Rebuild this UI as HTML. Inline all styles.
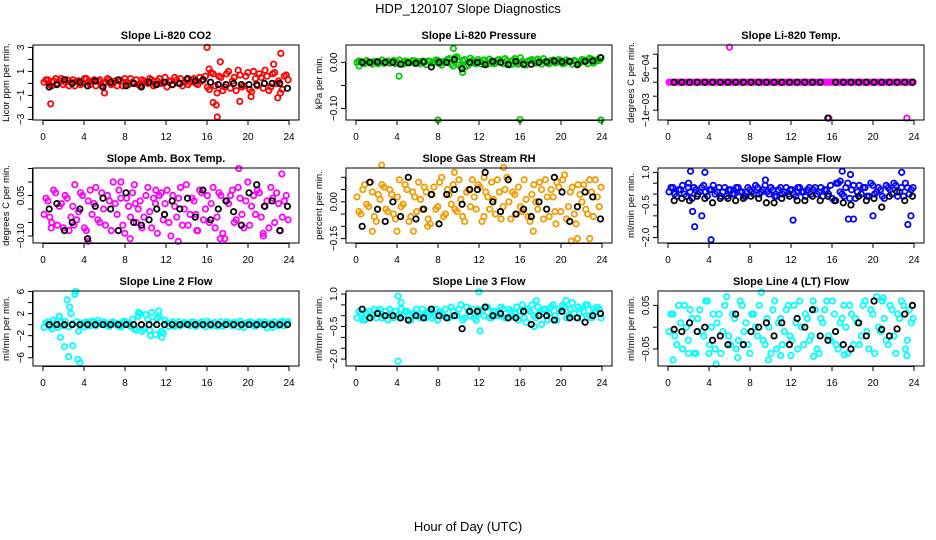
<!DOCTYPE html>
<html><head><meta charset="utf-8"><title>HDP_120107 Slope Diagnostics</title>
<style>
html,body{margin:0;padding:0;background:#fff;}
svg{display:block;font-family:"Liberation Sans",sans-serif;}
</style></head>
<body>
<svg id="chart" width="936" height="540" viewBox="0 0 936 540">
<rect width="936" height="540" fill="#fff"/>
<text x="468" y="13" text-anchor="middle" font-size="13">HDP_120107  Slope Diagnostics</text>
<text x="468" y="531" text-anchor="middle" font-size="13">Hour of Day (UTC)</text>
</svg>
<script>
const xTicks = [0,4,8,12,16,20,24];
const hoursColored = [0.1,0.48,0.85,1.23,1.6,1.98,2.35,2.73,3.1,3.48,3.85,4.23,4.6,4.98,5.35,5.73,6.1,6.48,6.85,7.23,7.6,7.98,8.35,8.73,9.1,9.48,9.85,10.23,10.6,10.98,11.35,11.73,12.1,12.48,12.85,13.23,13.6,13.98,14.35,14.73,15.1,15.48,15.85,16.23,16.6,16.98,17.35,17.73,18.1,18.48,18.85,19.23,19.6,19.98,20.35,20.73,21.1,21.48,21.85,22.23,22.6,22.98,23.35,23.73];
const hoursColoredB = [0.29,0.66,1.04,1.41,1.79,2.16,2.54,2.91,3.29,3.66,4.04,4.41,4.79,5.16,5.54,5.91,6.29,6.66,7.04,7.41,7.79,8.16,8.54,8.91,9.29,9.66,10.04,10.41,10.79,11.16,11.54,11.91,12.29,12.66,13.04,13.41,13.79,14.16,14.54,14.91,15.29,15.66,16.04,16.41,16.79,17.16,17.54,17.91,18.29,18.66,19.04,19.41,19.79,20.16,20.54,20.91,21.29,21.66,22.04,22.41,22.79,23.16,23.54,23.91];
const hoursBlack = [0.6,1.35,2.1,2.85,3.6,4.35,5.1,5.85,6.6,7.35,8.1,8.85,9.6,10.35,11.1,11.85,12.6,13.35,14.1,14.85,15.6,16.35,17.1,17.85,18.6,19.35,20.1,20.85,21.6,22.35,23.1,23.85];

const co2Vals = [0.1,0.3,-0.2,0.4,0.2,-0.1,0.3,0.1,-0.2,0.2,0.0,0.4,-0.1,0.3,0.2,-0.2,0.1,0.3,0.0,-0.2,0.2,0.4,-0.1,0.1,0.3,-0.2,0.2,0.0,0.3,-0.1,0.4,0.1,-0.3,0.2,0.5,0.0,-0.2,0.3,0.1,0.4,-0.1,0.2,0.6,-0.5,0.8,-0.8,0.5,-0.3,1.0,0.2,-0.6,0.7,-0.2,0.9,-0.7,0.4,0.8,-0.4,0.6,-0.3,0.9,0.2,-0.5,0.7];
const co2ValsB = [0.3,-0.1,0.2,0.0,0.4,0.1,-0.2,0.3,0.2,-0.1,0.4,0.1,0.2,-0.2,0.3,0.0,0.4,-0.1,0.2,0.3,-0.2,0.1,0.4,0.0,-0.1,0.3,0.1,0.4,-0.2,0.2,0.0,0.5,0.2,-0.1,0.3,0.4,0.1,-0.1,0.3,0.0,0.5,0.3,-0.3,0.9,-0.2,0.6,-0.6,0.8,-0.4,0.5,1.1,-0.3,0.6,-0.5,1.0,-0.2,0.5,1.1,-0.6,0.8,0.0,-0.8,0.6,0.3];
const co2ExtraHours = [0.75,6.0,16.0,16.2,16.6,17.0,17.3,19.2,20.3,22.5,23.2,22.9,16.9];
const co2ExtraVals = [-1.7,-0.8,3.0,1.2,-1.6,-2.8,1.8,-1.5,-1.1,1.6,2.5,-1.2,-1.8];
const co2Black = [-0.3,-0.1,0.3,0.0,0.1,-0.2,0.2,-0.3,0.1,0.3,-0.2,0.0,-0.3,0.1,-0.1,0.1,-0.1,0.0,0.4,0.2,0.3,0.1,-0.1,-0.1,0.0,-0.1,-0.1,-0.1,0.0,0.0,0.0,-0.4];

const presVals = [0.000,0.002,-0.003,0.001,-0.004,0.002,0.000,-0.002,0.003,0.001,-0.003,0.005,-0.004,0.002,0.000,-0.002,0.001,0.003,-0.005,0.002,-0.001,0.004,-0.006,0.001,0.008,-0.008,0.012,-0.010,0.006,-0.005,0.004,-0.003,0.002,0.005,-0.004,0.003,-0.002,0.006,-0.003,0.004,-0.005,0.008,-0.004,0.002,-0.006,0.004,0.001,0.007,-0.004,0.002,-0.003,0.005,0.000,0.004,-0.002,0.003,-0.004,0.002,-0.001,0.005,-0.003,0.007,0.002,0.004];
const presValsB = [0.003,-0.002,0.004,-0.001,0.002,-0.003,0.005,0.001,-0.002,0.004,0.000,-0.003,0.003,-0.001,0.004,0.002,-0.003,0.000,0.003,-0.002,0.005,-0.003,0.002,0.006,-0.004,0.010,-0.006,0.004,-0.008,0.009,-0.002,0.006,-0.004,0.001,0.007,-0.003,0.005,0.000,0.008,-0.002,0.004,-0.003,0.010,-0.005,0.003,0.006,-0.002,0.004,0.008,-0.002,0.004,-0.001,0.006,-0.003,0.005,0.001,0.004,-0.003,0.006,0.002,0.009,-0.002,0.006,0.010];
const presExtraHours = [4.2,8.0,9.5,10.4,16.0,23.9,0.3];
const presExtraVals = [-0.030,-0.125,0.030,-0.022,-0.124,-0.125,-0.008];
const presBlack = [0.000,0.000,0.001,0.000,0.000,-0.004,-0.001,-0.002,0.001,-0.010,0.000,0.000,0.006,-0.014,0.000,0.000,-0.005,0.002,0.000,-0.005,0.002,-0.004,-0.004,0.000,0.001,0.003,0.001,0.002,-0.005,0.002,0.003,0.010];

const tempVals = [0,0,0,0,0,0,0,0,0,0,0,0,0,0,0,0,0,0,0,0,0,0,0,0,0,0,0,0,0,0,0,0,0,0,0,0,0,0,0,0,0,0,0,0,0,0,0,0,0,0,0,0,0,0,0,0,0,0,0,0,0,0,0,0];
const tempValsB = [0,0,0,0,0,0,0,0,0,0,0,0,0,0,0,0,0,0,0,0,0,0,0,0,0,0,0,0,0,0,0,0,0,0,0,0,0,0,0,0,0,0,0,0,0,0,0,0,0,0,0,0,0,0,0,0,0,0,0,0,0,0,0,0];
const tempExtraHours = [6.0,15.7,23.3];
const tempExtraVals = [0.00125,-0.00128,-0.00128];
const tempBlack = [0,0,0,0,0,0,0,0,0,0,0,0,0,0,0,0,0,0,0,0,-0.00128,0,0,0,0,0,0,0,0,0,0,0];

const ambVals = [-0.02,0.03,-0.05,0.06,0.01,-0.07,0.04,-0.03,0.09,-0.01,0.05,-0.08,0.07,0.02,-0.04,0.06,-0.06,0.03,0.10,-0.02,0.04,-0.09,0.01,0.06,-0.05,0.03,-0.03,0.08,-0.07,0.02,0.05,-0.04,0.07,-0.10,0.01,0.04,-0.06,0.09,-0.02,0.03,-0.08,0.06,0.00,-0.05,0.08,-0.03,0.05,-0.11,0.02,0.07,-0.04,0.04,-0.07,0.10,0.01,-0.02,0.06,-0.09,0.03,0.08,-0.05,0.02,-0.03,0.05];
const ambValsB = [0.04,-0.03,0.07,-0.06,0.02,0.05,-0.08,0.01,-0.04,0.06,-0.07,0.03,-0.02,0.08,-0.05,0.00,0.05,-0.08,0.02,0.07,-0.06,0.04,-0.03,0.09,0.00,-0.07,0.05,-0.01,0.04,-0.09,0.06,0.02,-0.05,0.05,-0.03,0.08,0.00,-0.06,0.04,-0.02,0.07,-0.04,0.05,0.02,-0.07,0.06,-0.09,0.03,0.05,-0.05,0.08,-0.02,0.03,-0.06,0.05,0.07,-0.03,0.01,-0.07,0.04,0.06,-0.08,0.03,-0.04];
const ambExtraHours = [0.8,4.4,7.6,8.5,9.0,13.2,17.3,19.1,23.3,3.0,11.0,15.0,21.5];
const ambExtraVals = [-0.07,-0.12,0.10,-0.11,0.02,-0.12,-0.11,0.15,0.13,-0.06,0.07,-0.08,-0.10];
const ambBlack = [0.0,0.02,-0.08,-0.05,0.0,-0.11,0.01,0.04,0.0,-0.08,0.06,-0.05,-0.06,-0.04,0.0,-0.02,0.03,0.0,0.04,-0.03,0.07,-0.04,0.0,0.03,-0.01,-0.06,0.06,0.09,0.01,0.03,-0.08,0.01];

const rhVals = [0.02,-0.05,0.07,-0.02,0.04,-0.08,0.01,0.06,-0.04,0.03,-0.07,0.09,-0.01,0.05,-0.06,0.02,0.08,-0.03,0.04,-0.09,0.06,-0.02,0.10,-0.05,0.03,0.07,-0.04,0.01,-0.08,0.05,0.09,-0.03,0.06,-0.06,0.02,0.08,-0.05,0.04,-0.02,0.10,-0.07,0.03,0.06,-0.04,0.01,-0.08,0.07,-0.03,0.05,0.09,-0.06,0.02,0.08,-0.04,0.11,-0.02,0.06,-0.09,0.03,0.07,-0.05,0.04,0.09,-0.02];
const rhValsB = [-0.04,0.05,-0.01,0.08,-0.06,0.03,0.07,-0.03,0.05,-0.05,0.02,-0.02,0.07,-0.08,0.04,-0.04,0.01,0.06,-0.07,0.03,-0.03,0.08,-0.06,0.05,-0.01,-0.03,0.09,-0.06,0.04,-0.02,0.02,0.07,-0.08,0.04,-0.03,0.01,0.09,-0.07,0.05,0.00,0.04,-0.05,-0.02,0.09,-0.06,0.03,0.00,0.08,-0.07,0.02,0.05,-0.04,0.06,0.09,-0.07,0.04,-0.05,0.07,0.00,-0.03,0.09,-0.06,0.02,0.06];
const rhExtraHours = [2.5,1.6,4.0,5.6,14.4,9.6,21.0,21.6,22.8,19.5,12.5,7.0,17.3];
const rhExtraVals = [0.15,-0.12,-0.12,-0.12,0.14,0.12,-0.16,-0.15,-0.15,-0.09,0.10,-0.10,-0.12];
const rhBlack = [-0.10,0.08,-0.03,-0.08,0.00,-0.06,0.10,-0.07,-0.03,0.03,-0.09,0.03,0.05,-0.01,0.05,0.05,0.12,0.00,-0.04,0.09,-0.05,-0.03,-0.06,0.00,-0.03,0.10,0.04,-0.08,-0.02,0.04,0.02,-0.07];

const sampleVals = [0.1,0.3,-0.1,0.2,0.0,0.3,-0.2,0.2,0.1,0.4,-0.1,0.2,0.0,0.3,0.1,-0.1,0.2,0.0,0.3,0.1,-0.1,0.2,0.0,0.3,0.1,0.4,0.0,0.2,-0.1,0.3,0.1,0.0,0.2,-0.1,0.3,0.1,0.2,0.0,0.3,0.1,-0.1,0.2,0.4,-0.3,0.5,0.0,0.3,-0.2,0.4,0.1,0.0,0.3,-0.1,0.4,0.1,0.2,-0.2,0.3,0.0,0.4,0.1,-0.1,0.3,0.2];
const sampleValsB = [0.3,0.0,0.2,0.4,-0.1,0.1,0.3,0.0,0.3,0.1,0.2,0.4,0.1,-0.1,0.3,0.2,0.0,0.3,0.1,-0.1,0.3,0.1,0.4,0.0,0.2,0.1,0.3,-0.1,0.2,0.0,0.3,0.2,0.0,0.3,0.1,-0.1,0.3,0.2,0.0,0.3,0.2,0.0,-0.2,0.5,0.1,-0.1,0.5,0.2,-0.2,0.4,0.3,-0.1,0.5,0.0,0.3,-0.1,0.4,0.2,0.5,-0.1,0.3,0.5,0.0,0.3];
const sampleExtraHours = [2.2,2.4,2.6,3.6,3.3,4.2,9.5,12.2,16.8,17.0,17.6,18.1,20.0,22.8,23.4,23.7,2.0,17.8];
const sampleExtraVals = [1.05,-0.8,-1.5,1.0,-1.0,-2.1,0.65,-1.2,0.6,1.05,-1.15,-1.15,-1.0,1.0,-1.4,-1.0,0.5,0.9];
const sampleBlack = [-0.3,-0.2,-0.3,-0.1,-0.2,-0.4,-0.2,-0.2,-0.3,-0.2,-0.1,-0.2,-0.4,-0.4,-0.2,-0.1,-0.3,-0.3,-0.1,-0.3,-0.1,-0.3,-0.4,-0.5,-0.1,-0.3,-0.2,-0.6,-0.1,0.1,-0.3,-0.1];

const line2Vals = [-0.5,0.5,-0.8,0.3,1.5,-0.2,4.5,2.0,5.5,-1.2,0.3,0.5,-0.2,0.4,0.8,0.0,0.3,-0.3,0.5,0.2,-0.4,0.6,0.0,1.0,-1.0,2.0,-0.8,1.0,2.2,-1.8,1.5,-1.5,0.3,0.2,-0.3,0.5,0.0,0.3,-0.2,0.4,0.0,0.5,-0.4,0.3,0.2,-0.3,0.5,0.0,0.4,-0.2,0.3,0.6,-0.5,0.2,0.4,-0.3,0.5,0.0,-0.6,0.3,0.5,-0.2,0.6,0.4];
const line2ValsB = [0.3,-0.3,0.8,-0.5,0.4,0.6,-0.4,0.2,0.5,0.2,-0.4,0.3,0.6,-0.2,0.3,0.5,-0.2,0.4,0.0,-0.3,0.5,0.2,-0.3,-0.8,1.5,-1.2,1.8,-1.0,0.5,1.2,-1.2,0.8,-0.3,0.5,0.0,-0.2,0.4,0.1,0.5,-0.3,0.3,0.0,0.6,-0.2,0.4,0.0,-0.3,0.5,0.2,0.4,-0.4,0.0,0.3,0.5,-0.2,0.4,0.0,0.5,0.3,-0.5,0.0,0.4,-0.2,0.5];
const line2ExtraHours = [1.7,2.1,2.5,2.9,3.4,3.6,2.6,3.2,9.3,10.5,11.3,11.6];
const line2ExtraVals = [-2.3,-4.0,-5.8,-3.8,-6.3,-6.9,3.2,6.0,2.2,-2.0,2.5,-2.3];
const line2Black = [0,0,0,0,0,0,0,0,0,0,0,0,0,0,0,0,0,0,0,0,0,0,0,0,0,0,0,0,0,0,0,0];

const line3Vals = [-0.1,0.1,-0.2,0.2,0.0,-0.1,0.3,0.0,-0.2,0.1,0.2,-0.1,0.0,0.2,-0.2,0.1,0.0,0.3,-0.1,0.2,0.0,-0.2,0.1,0.3,-0.1,0.2,0.0,0.5,-0.1,0.2,0.3,-0.2,0.1,0.0,0.4,-0.1,0.2,0.0,0.3,-0.1,0.2,0.1,-0.2,0.5,-0.3,0.2,0.0,0.4,-0.4,0.3,0.1,0.5,-0.2,0.2,0.4,0.0,0.6,-0.1,0.3,0.2,0.5,-0.1,0.2,0.3];
const line3ValsB = [0.2,-0.2,0.1,-0.1,0.3,0.2,-0.1,0.2,0.3,-0.1,0.0,0.3,0.2,-0.2,0.1,0.3,-0.1,0.0,0.2,-0.1,0.3,0.2,0.0,-0.1,0.4,0.0,0.3,-0.2,0.4,0.0,-0.1,0.3,0.2,0.4,-0.1,0.2,0.0,0.4,-0.1,0.3,0.0,0.4,0.2,-0.1,0.3,0.5,-0.1,0.1,0.3,-0.2,0.4,0.0,0.3,0.5,-0.1,0.3,0.1,0.4,-0.1,0.5,0.0,0.3,0.4,-0.1];
const line3ExtraHours = [4.1,4.1,12.0,12.1,17.6,17.4,4.4,20.5];
const line3ExtraVals = [0.9,-2.1,1.1,-0.7,0.7,-0.5,0.6,0.7];
const line3Black = [0.3,-0.1,0.1,0.0,0.0,-0.1,-0.2,0.0,-0.1,0.3,0.0,-0.1,0.0,-0.6,0.2,0.2,0.4,0.0,0.1,-0.1,-0.1,0.2,-0.4,0.0,0.0,-0.2,0.2,-0.1,-0.1,-0.3,0.0,0.1];

const line4Vals = [-0.01,0.03,-0.04,0.01,0.05,-0.03,0.02,-0.06,0.04,-0.02,0.06,0.00,-0.05,0.03,-0.01,0.07,-0.04,0.02,-0.03,0.05,0.01,-0.06,0.03,-0.02,0.08,-0.04,0.00,0.04,-0.05,0.02,-0.01,0.05,-0.03,0.01,0.06,-0.04,0.02,-0.02,0.04,-0.06,0.01,0.06,-0.03,0.03,-0.05,0.02,0.00,0.05,-0.04,0.01,-0.02,0.06,-0.05,0.03,0.07,-0.01,0.02,-0.04,0.04,-0.06,0.02,0.05,-0.03,0.01];
const line4ValsB = [0.03,-0.02,0.05,-0.05,0.00,0.04,-0.06,0.02,-0.01,0.06,-0.04,0.03,0.01,-0.06,0.05,-0.02,0.03,-0.05,0.06,-0.01,-0.04,0.03,0.00,0.05,-0.03,0.02,-0.06,0.06,0.01,-0.04,0.04,-0.02,0.05,-0.05,0.00,0.03,-0.03,0.06,-0.05,0.02,0.04,-0.02,0.06,-0.04,0.01,0.05,-0.06,0.03,0.02,-0.04,0.05,-0.01,0.04,-0.06,0.00,0.06,-0.03,0.05,-0.02,0.03,0.06,-0.05,0.04,0.02];
const line4ExtraHours = [0.5,2.0,4.0,4.7,6.8,9.8,11.0,12.0,14.2,17.2,21.0,23.3];
const line4ExtraVals = [-0.075,-0.06,-0.06,-0.085,-0.07,-0.075,-0.065,-0.065,-0.067,-0.063,0.067,-0.065];
const line4Black = [-0.005,-0.01,0.01,-0.01,0.0,-0.03,-0.02,-0.04,0.03,-0.04,-0.01,0.0,0.01,-0.02,0.01,-0.04,0.02,0.0,0.04,-0.02,-0.03,-0.01,-0.04,-0.05,0.01,-0.02,0.06,-0.005,-0.02,-0.004,0.03,0.05];

const panels = [
 {name:'co2',title:'Slope Li-820 CO2',ylab:'Licor ppm per min.',col:0,row:0,color:'#ff0000',ylim:[-3.05,3.2],ticks:[-3,-2,-1,0,1,2,3],labels:{'3':'3','1':'1','-1':'\u22121','-3':'\u22123'},v:co2Vals,v2:co2ValsB,eh:co2ExtraHours,ev:co2ExtraVals,b:co2Black},
 {name:'pressure',title:'Slope Li-820 Pressure',ylab:'kPa per min.',col:1,row:0,color:'#00cd00',ylim:[-0.125,0.0376],ticks:[-0.10,-0.05,0],labels:{'0':'0.00','-0.1':'\u22120.10'},v:presVals,v2:presValsB,eh:presExtraHours,ev:presExtraVals,b:presBlack},
 {name:'temp',title:'Slope Li-820 Temp.',ylab:'degrees C per min.',col:2,row:0,color:'#ff00ff',ylim:[-0.00135,0.00133],ticks:[-0.001,-0.0005,0,0.0005,0.001],labels:{'0.0005':'5e\u221204','-0.001':'\u22121e\u221203'},v:tempVals,v2:tempValsB,eh:tempExtraHours,ev:tempExtraVals,b:tempBlack},
 {name:'amb-box-temp',title:'Slope Amb. Box Temp.',ylab:'degrees C per min.',col:0,row:1,color:'#ff00ff',ylim:[-0.126,0.152],ticks:[-0.10,-0.05,0,0.05,0.10,0.15],labels:{'0.05':'0.05','-0.1':'\u22120.10'},v:ambVals,v2:ambValsB,eh:ambExtraHours,ev:ambExtraVals,b:ambBlack},
 {name:'gas-stream-rh',title:'Slope Gas Stream RH',ylab:'percent per min.',col:1,row:1,color:'#f29a00',ylim:[-0.168,0.138],ticks:[-0.15,-0.10,-0.05,0,0.05,0.10],labels:{'0':'0.00','-0.15':'\u22120.15'},v:rhVals,v2:rhValsB,eh:rhExtraHours,ev:rhExtraVals,b:rhBlack},
 {name:'sample-flow',title:'Slope Sample Flow',ylab:'ml/min per min.',col:2,row:1,color:'#0000ff',ylim:[-2.25,1.2],ticks:[-2,-1.5,-1,-0.5,0,0.5,1],labels:{'1':'1.0','-0.5':'\u22120.5','-2':'\u22122.0'},v:sampleVals,v2:sampleValsB,eh:sampleExtraHours,ev:sampleExtraVals,b:sampleBlack},
 {name:'line-2-flow',title:'Slope Line 2 Flow',ylab:'ml/min per min.',col:0,row:2,color:'#00ffff',ylim:[-7.5,6.1],ticks:[-6,-4,-2,0,2,4,6],labels:{'6':'6','2':'2','-2':'\u22122','-6':'\u22126'},v:line2Vals,v2:line2ValsB,eh:line2ExtraHours,ev:line2ExtraVals,b:line2Black},
 {name:'line-3-flow',title:'Slope Line 3 Flow',ylab:'ml/min per min.',col:1,row:2,color:'#00ffff',ylim:[-2.32,1.14],ticks:[-2,-1.5,-1,-0.5,0,0.5,1],labels:{'1':'1.0','-0.5':'\u22120.5','-2':'\u22122.0'},v:line3Vals,v2:line3ValsB,eh:line3ExtraHours,ev:line3ExtraVals,b:line3Black},
 {name:'line-4-flow',title:'Slope Line 4 (LT) Flow',ylab:'ml/min per min.',col:2,row:2,color:'#00ffff',ylim:[-0.089,0.083],ticks:[-0.05,0,0.05],labels:{'0.05':'0.05','-0.05':'\u22120.05'},v:line4Vals,v2:line4ValsB,eh:line4ExtraHours,ev:line4ExtraVals,b:line4Black}
];

const NS='http://www.w3.org/2000/svg';
const svg=document.getElementById('chart');
const colLeft=[33,346,658], boxW=266, rowTop=[45,168,291], boxH=75;
function mk(tag,attrs,parent){const e=document.createElementNS(NS,tag);for(const k in attrs)e.setAttribute(k,attrs[k]);parent.appendChild(e);return e;}

panels.forEach(p=>{
  const L=colLeft[p.col], T=rowTop[p.row], R=L+boxW, B=T+boxH;
  const xS=h=>L+10+h/24*(boxW-20);
  const yS=v=>B-(v-p.ylim[0])/(p.ylim[1]-p.ylim[0])*boxH;
  const g=mk('g',{},svg);
  
  
  const t=mk('text',{x:(L+R)/2,y:T-6,'text-anchor':'middle','font-size':'11','font-weight':'bold'},g);
  t.textContent=p.title;
  
  
  const yl=mk('text',{x:0,y:0,'text-anchor':'middle','font-size':'9.5',transform:`translate(${L-24},${(T+B)/2}) rotate(-90)`},g);
  yl.textContent=p.ylab;
  
  
  const pts=mk('g',{fill:'none','stroke-width':'1.8'},g);
  
  
  for(let i=0;i<Math.min(hoursColored.length,p.v.length);i++){
    const c=mk('circle',{cx:xS(hoursColored[i]),cy:yS(p.v[i]),r:2.7,stroke:p.color},pts);
    
    
  }
  for(let i=0;i<Math.min(hoursColoredB.length,p.v2.length);i++){
    const c=mk('circle',{cx:xS(hoursColoredB[i]),cy:yS(p.v2[i]),r:2.7,stroke:p.color},pts);
    
    
  }
  for(let i=0;i<Math.min(p.eh.length,p.ev.length);i++){
    const c=mk('circle',{cx:xS(p.eh[i]),cy:yS(p.ev[i]),r:2.7,stroke:p.color},pts);
    
    
  }
  for(let i=0;i<Math.min(hoursBlack.length,p.b.length);i++){
    const c=mk('circle',{cx:xS(hoursBlack[i]),cy:yS(p.b[i]),r:2.7,stroke:'#000'},pts);
    
    
  }
  const bx=mk('rect',{x:L,y:T,width:boxW,height:boxH,fill:'none',stroke:'#000','stroke-width':'1'},g);
  
  
  const xa=mk('g',{stroke:'#000','stroke-width':'1'},g);
  
  
  mk('line',{x1:xS(xTicks[0]),x2:xS(xTicks[xTicks.length-1]),y1:B+0.5,y2:B+0.5},xa);
  xTicks.forEach(v=>{
    mk('line',{x1:xS(v),x2:xS(v),y1:B,y2:B+5},xa);
    const tl=mk('text',{x:xS(v),y:B+20,'text-anchor':'middle','font-size':'10',stroke:'none',fill:'#000'},xa);
    tl.textContent=String(v);
    
    
  });
  const ya=mk('g',{stroke:'#000','stroke-width':'1'},g);
  
  
  const tv=p.ticks.filter(v=>yS(v)>=T-0.5&&yS(v)<=B+0.5);
  mk('line',{x1:L-0.5,x2:L-0.5,y1:yS(Math.min(...tv)),y2:yS(Math.max(...tv))},ya);
  tv.forEach(v=>{
    mk('line',{x1:L-5,x2:L,y1:yS(v),y2:yS(v)},ya);
    const key=String(Math.round(v*100000)/100000);
    if(p.labels[key]!==undefined){
      const tl=mk('text',{x:0,y:0,'text-anchor':'middle','font-size':'10',stroke:'none',fill:'#000',transform:`translate(${L-9},${yS(v)}) rotate(-90)`},ya);
      tl.textContent=p.labels[key];
      
      
    }
  });
});
</script>
</body></html>
